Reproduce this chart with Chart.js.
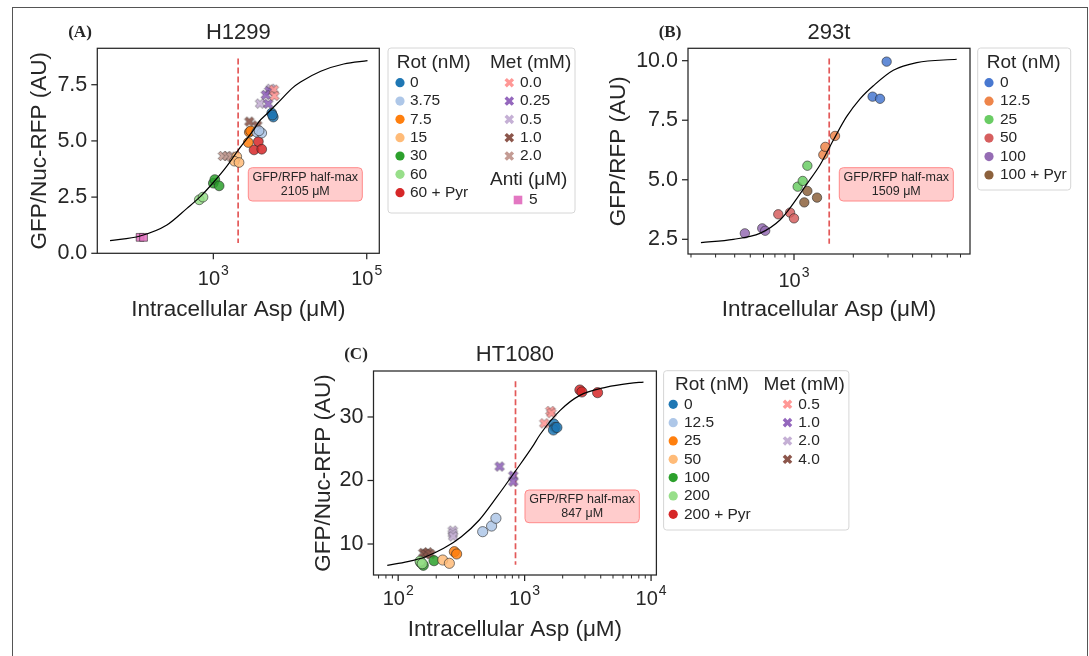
<!DOCTYPE html>
<html>
<head>
<meta charset="utf-8">
<script src="https://cdn.jsdelivr.net/npm/chart.js@4.4.0/dist/chart.umd.min.js"></script>
<style>
    html, body { margin: 0; padding: 0; background: #fff; }
    #wrap { position: relative; width: 1089px; height: 656px; overflow: hidden; }
    #frame { position: absolute; left: 12px; top: 7px; width: 1074px; height: 700px; border: 1px solid #555; }
    canvas { position: absolute; left: 0; top: 0; }
</style>
</head>
<body>
<div id="wrap">
    <div id="frame"></div>
    <canvas id="chartA" width="1089" height="656"></canvas>
    <canvas id="chartB" width="1089" height="656"></canvas>
    <canvas id="chartC" width="1089" height="656"></canvas>
</div>
<script>
// ---- (A) H1299 ----
const aRotLabels = ["0", "3.75", "7.5", "15", "30", "60", "60 + Pyr"];
const aRotAsp = [[5770, 6050, 5900], [3680, 4276, 3950], [2857, 2945, 3060], [2018, 1880, 2163], [1000, 1045, 1190], [656, 733], [3396, 3865, 4276]];
const aRotGfp = [[6.24, 6.06, 6.15], [5.39, 5.35, 5.45], [4.93, 5.39, 5.44], [4.30, 4.10, 4.04], [3.12, 3.28, 3.00], [2.38, 2.50], [4.60, 4.97, 4.63]];
const aMetLabels = ["0.0", "0.25", "0.5", "1.0", "2.0"];
const aMetAsp = [[6150, 6250], [5350, 4830, 5190], [4064, 5600], [2945, 3750], [1330, 1520, 1700]];
const aMetGfp = [[7.28, 7.00], [7.22, 7.05, 6.65], [6.66, 7.32], [5.86, 5.69], [4.33, 4.33, 4.30]];
const aAntiLabels = ["5"];
const aAntiAsp = [[111, 123]];
const aAntiGfp = [[0.71, 0.71]];
const aFitAsp = [45, 111, 248, 453, 676, 1000, 1510, 2123, 3365, 3945, 5012, 7190, 10700, 13710, 25120, 50120, 102300];
const aFitGfp = [0.56, 0.77, 1.26, 2.0, 2.52, 3.15, 3.89, 4.60, 5.5, 5.86, 6.21, 6.75, 7.35, 7.62, 8.1, 8.42, 8.57];
const aHalfMax = 2105;
const aYTicks = [0, 2.5, 5, 7.5];
const aXMajor = [1000, 100000];
const aXMinor = [];

// ---- (B) 293t ----
const bRotLabels = ["0", "12.5", "25", "50", "100", "100 + Pyr"];
const bRotAsp = [[2506, 2733, 2953], [1409, 1442, 1615], [1044, 1107, 1169], [832, 955, 1000], [563, 690, 714], [1128, 1169, 1309]];
const bRotGfp = [[8.49, 8.40, 9.96], [6.05, 6.38, 6.84], [4.71, 4.95, 5.59], [3.55, 3.62, 3.38], [2.75, 2.96, 2.86], [4.05, 4.53, 4.25]];
const bFitAsp = [337, 492, 671, 849, 993, 1159, 1355, 1585, 1849, 2163, 2529, 3192, 4198, 6699];
const bFitGfp = [2.36, 2.50, 2.75, 3.31, 4.01, 4.81, 5.62, 6.67, 7.65, 8.40, 8.95, 9.6, 9.92, 10.06];
const bHalfMax = 1509;
const bYTicks = [2.5, 5, 7.5, 10];
const bXMajor = [1000];
const bXMinor = [300, 400, 500, 600, 700, 800, 900, 2000, 3000, 4000, 5000, 6000, 7000];

// ---- (C) HT1080 ----
const cRotLabels = ["0", "12.5", "25", "50", "100", "200", "200 + Pyr"];
const cRotAsp = [[1700, 1740, 1690, 1800], [466, 548, 593], [278, 290], [225, 254], [149, 155], [151, 158, 192], [2735, 2838, 3776]];
const cRotGfp = [[28.9, 28.35, 27.95, 28.35], [11.94, 12.83, 14.05], [8.79, 8.43], [7.48, 6.96], [7.3, 6.9], [7.06, 6.65, 7.37], [34.25, 33.94, 33.83]];
const cMetLabels = ["0.5", "1.0", "2.0", "4.0"];
const cMetAsp = [[1430, 1600, 1630], [634, 813, 813], [270, 270, 272], [158, 165, 172, 180]];
const cMetGfp = [[29.0, 30.95, 30.6], [22.2, 20.76, 19.82], [12.1, 11.65, 11.2], [8.6, 8.45, 8.7, 8.4]];
const cFitAsp = [82, 119, 165, 229, 316, 438, 605, 839, 1161, 1321, 1901, 2735, 4446, 6790, 8710];
const cFitGfp = [6.64, 7.22, 8.0, 9.32, 11.15, 13.78, 17.45, 21.39, 25.4, 27.2, 31.0, 33.4, 34.7, 35.3, 35.5];
const cHalfMax = 847;
const cYTicks = [10, 20, 30];
const cXMajor = [100, 1000, 10000];
const cXMinor = [70, 80, 90, 200, 300, 400, 500, 600, 700, 800, 900, 2000, 3000, 4000, 5000, 6000, 7000, 8000, 9000];

// colours
const tabRot = ["#1f77b4", "#aec7e8", "#ff7f0e", "#ffbb78", "#2ca02c", "#98df8a", "#d62728"];
const tabMetA = ["#ff9896", "#9467bd", "#c5b0d5", "#8c564b", "#c49c94"];
const tabMetC = ["#ff9896", "#9467bd", "#c5b0d5", "#8c564b"];
const antiColors = ["#e377c2"];
const mutedRot = ["#4878d0", "#ee854a", "#6acc64", "#d65f5f", "#956cb4", "#8c613c"];
// C draws the 200 group under 100, so its colour list follows the array order above
const cRotColors = ["#1f77b4", "#aec7e8", "#ff7f0e", "#ffbb78", "#98df8a", "#2ca02c", "#d62728"];

const SANS = '"Liberation Sans", Arial, Helvetica, sans-serif';
const SERIF = '"Liberation Serif", "Times New Roman", serif';
const INK = "#262626";

function pts(xs, ys) {
    return xs.map((x, i) => ({ x: x, y: ys[i] }));
}

function rgba(hex, a) {
    const n = parseInt(hex.slice(1), 16);
    return `rgba(${n >> 16},${(n >> 8) & 255},${n & 255},${a})`;
}

function xShape(g, cx, cy, color, edge) {
    const r = 5.1, a = 1.7;
    g.save();
    g.translate(cx, cy);
    g.rotate(Math.PI / 4);
    g.beginPath();
    g.moveTo(-a, -r); g.lineTo(a, -r); g.lineTo(a, -a); g.lineTo(r, -a);
    g.lineTo(r, a); g.lineTo(a, a); g.lineTo(a, r); g.lineTo(-a, r);
    g.lineTo(-a, a); g.lineTo(-r, a); g.lineTo(-r, -a); g.lineTo(-a, -a);
    g.closePath();
    g.fillStyle = edge ? rgba(color, 0.9) : color;
    g.fill();
    if (edge) {
        g.strokeStyle = "rgba(40,40,40,0.6)";
        g.lineWidth = 0.7;
        g.stroke();
    }
    g.restore();
}

function xMarker(color) {
    const c = document.createElement("canvas");
    c.width = 14;
    c.height = 14;
    xShape(c.getContext("2d"), 7, 7, color, true);
    return c;
}

function circleSet(xs, ys, color, r) {
    return {
        data: pts(xs, ys), pointStyle: "circle", pointRadius: r,
        backgroundColor: rgba(color, 0.85), borderColor: "rgba(40,40,40,0.75)", borderWidth: 0.8,
        order: 2
    };
}

function crossSet(xs, ys, color) {
    return { data: pts(xs, ys), pointStyle: xMarker(color), pointRadius: 5, order: 2 };
}

function squareSet(xs, ys, color) {
    return {
        data: pts(xs, ys), pointStyle: "rect", pointRadius: 5.5,
        backgroundColor: rgba(color, 0.9), borderColor: "rgba(40,40,40,0.75)", borderWidth: 0.8,
        order: 2
    };
}

function fitSet(xs, ys) {
    return {
        data: pts(xs, ys), showLine: true, borderColor: "#000", borderWidth: 1.2,
        pointRadius: 0, cubicInterpolationMode: "monotone", fill: false, order: 0
    };
}

function text(ctx, s, x, y, size, align, rot, font) {
    ctx.save();
    ctx.font = font || (size + "px " + SANS);
    ctx.fillStyle = INK;
    ctx.textAlign = align || "center";
    ctx.textBaseline = "middle";
    ctx.translate(x, y);
    if (rot) ctx.rotate(rot);
    ctx.fillText(s, 0, 0);
    ctx.restore();
}

function roundBox(ctx, x0, y0, x1, y1, r) {
    ctx.beginPath();
    ctx.moveTo(x0 + r, y0);
    ctx.lineTo(x1 - r, y0); ctx.arcTo(x1, y0, x1, y0 + r, r);
    ctx.lineTo(x1, y1 - r); ctx.arcTo(x1, y1, x1 - r, y1, r);
    ctx.lineTo(x0 + r, y1); ctx.arcTo(x0, y1, x0, y1 - r, r);
    ctx.lineTo(x0, y0 + r); ctx.arcTo(x0, y0, x0 + r, y0, r);
    ctx.closePath();
}

function powLabel(ctx, x, y, exp) {
    ctx.font = "20px " + SANS;
    const w1 = ctx.measureText("10").width;
    ctx.font = "14px " + SANS;
    const w2 = ctx.measureText(exp).width;
    const x0 = x - (w1 + w2 + 1) / 2;
    text(ctx, "10", x0, y, 20, "left");
    text(ctx, exp, x0 + w1 + 1, y - 8, 14, "left");
}

function drawLegend(ctx, L) {
    ctx.save();
    roundBox(ctx, L.box[0], L.box[1], L.box[2], L.box[3], 3);
    ctx.fillStyle = "rgba(255,255,255,0.8)";
    ctx.fill();
    ctx.strokeStyle = "#d6d6d6";
    ctx.lineWidth = 1;
    ctx.stroke();
    L.cols.forEach(col => {
        text(ctx, col.head, col.hx, col.hy, 19, "left");
        col.labels.forEach((lab, i) => {
            const y = col.y0 + i * col.dy;
            if (col.marker === "x") {
                xShape(ctx, col.mx, y, col.colors[i], false);
            } else if (col.marker === "s") {
                ctx.fillStyle = col.colors[i];
                ctx.fillRect(col.mx - 4.3, y - 4.3, 8.6, 8.6);
            } else {
                ctx.fillStyle = col.colors[i];
                ctx.beginPath();
                ctx.arc(col.mx, y, 4.6, 0, Math.PI * 2);
                ctx.fill();
            }
            text(ctx, lab, col.tx, y, 15.5, "left");
        });
    });
    ctx.restore();
}

function decor(P) {
    return {
        id: "decor",
        beforeDatasetsDraw(chart) {
            const ctx = chart.ctx, a = chart.chartArea;
            const px = chart.scales.x.getPixelForValue(P.halfMax);
            const h = a.bottom - a.top;
            ctx.save();
            ctx.strokeStyle = "rgba(222,60,60,0.85)";
            ctx.lineWidth = 1.7;
            ctx.setLineDash([6, 3]);
            ctx.beginPath();
            ctx.moveTo(px, a.top + 0.05 * h);
            ctx.lineTo(px, a.bottom - 0.05 * h);
            ctx.stroke();
            ctx.restore();
        },
        afterDraw(chart) {
            const ctx = chart.ctx, a = chart.chartArea;
            const xs = chart.scales.x, ys = chart.scales.y;
            ctx.save();
            // frame
            ctx.strokeStyle = INK;
            ctx.lineWidth = 1.25;
            ctx.strokeRect(a.left, a.top, a.right - a.left, a.bottom - a.top);
            // y ticks
            P.yTicks.forEach(v => {
                const py = ys.getPixelForValue(v);
                ctx.beginPath();
                ctx.moveTo(a.left - 6, py);
                ctx.lineTo(a.left, py);
                ctx.stroke();
                text(ctx, P.yFmt(v), a.left - 10, py, 21.5, "right");
            });
            // x ticks
            P.xMajor.forEach(v => {
                const px = xs.getPixelForValue(v);
                ctx.lineWidth = 1.25;
                ctx.beginPath();
                ctx.moveTo(px, a.bottom);
                ctx.lineTo(px, a.bottom + 6);
                ctx.stroke();
                powLabel(ctx, px, a.bottom + P.xLabDy, String(Math.round(Math.log10(v))));
            });
            ctx.lineWidth = 1;
            P.xMinor.forEach(v => {
                const px = xs.getPixelForValue(v);
                ctx.beginPath();
                ctx.moveTo(px, a.bottom);
                ctx.lineTo(px, a.bottom + 3.5);
                ctx.stroke();
            });
            // titles
            const cx = (a.left + a.right) / 2, cy = (a.top + a.bottom) / 2;
            text(ctx, P.title, cx, P.titleY, 22);
            text(ctx, P.letter, P.letterX, P.titleY, 0, "center", 0, "bold 17px " + SERIF);
            text(ctx, P.yTitle, P.yTitleX, cy, 22.5, "center", -Math.PI / 2);
            text(ctx, "Intracellular Asp (μM)", cx, P.xTitleY, 22.5);
            // half-max box
            const b = P.box;
            roundBox(ctx, b[0], b[1], b[2], b[3], 4);
            ctx.fillStyle = "#ffcccc";
            ctx.fill();
            ctx.strokeStyle = "#ff8a8a";
            ctx.lineWidth = 1;
            ctx.stroke();
            const bx = (b[0] + b[2]) / 2;
            text(ctx, "GFP/RFP half-max", bx, b[1] + 9.5, 12.5);
            text(ctx, P.halfMax + " μM", bx, b[1] + 23.5, 12.5);
            drawLegend(ctx, P.legend);
            ctx.restore();
        }
    };
}

function makeChart(id, P, datasets) {
    const a = P.area;
    return new Chart(document.getElementById(id), {
        type: "scatter",
        data: { datasets: datasets },
        options: {
            responsive: false,
            animation: false,
            events: [],
            layout: { padding: { left: a.l, top: a.t, right: 1089 - a.r, bottom: 656 - a.b } },
            scales: {
                x: { type: "logarithmic", min: P.xMin, max: P.xMax, display: false },
                y: { type: "linear", min: P.yMin, max: P.yMax, display: false }
            },
            plugins: { legend: { display: false }, tooltip: { enabled: false } }
        },
        plugins: [decor(P)]
    });
}

// ---- panel A ----
const dataA = [fitSet(aFitAsp, aFitGfp)];
aRotAsp.forEach((xs, i) => dataA.push(circleSet(xs, aRotGfp[i], tabRot[i], 4.9)));
aMetAsp.forEach((xs, i) => dataA.push(crossSet(xs, aMetGfp[i], tabMetA[i])));
aAntiAsp.forEach((xs, i) => dataA.push(squareSet(xs, aAntiGfp[i], antiColors[i])));

makeChart("chartA", {
    area: { l: 97.3, t: 48.3, r: 379.3, b: 253.3 },
    xMin: 30.7, xMax: 145800, yMin: 0, yMax: 9.12,
    yTicks: aYTicks, yFmt: v => v.toFixed(1), xMajor: aXMajor, xMinor: aXMinor, xLabDy: 26,
    halfMax: aHalfMax,
    title: "H1299", titleY: 33, letter: "(A)", letterX: 80,
    yTitle: "GFP/Nuc-RFP (AU)", yTitleX: 40, xTitleY: 310,
    box: [248.3, 167.7, 362.3, 201],
    legend: {
        box: [388, 48, 575, 213],
        cols: [
            { head: "Rot (nM)", hx: 396.7, hy: 62.3, mx: 400, tx: 410, y0: 82.7, dy: 18.33, labels: aRotLabels, colors: tabRot, marker: "o" },
            { head: "Met (mM)", hx: 490, hy: 62.3, mx: 509.3, tx: 520, y0: 82.7, dy: 18.33, labels: aMetLabels, colors: tabMetA, marker: "x" },
            { head: "Anti (μM)", hx: 490, hy: 180, mx: 518, tx: 529, y0: 200, dy: 18.33, labels: aAntiLabels, colors: antiColors, marker: "s" }
        ]
    }
}, dataA);

// ---- panel B ----
const dataB = [fitSet(bFitAsp, bFitGfp)];
bRotAsp.forEach((xs, i) => dataB.push(circleSet(xs, bRotGfp[i], mutedRot[i], 4.7)));

makeChart("chartB", {
    area: { l: 688, t: 48.3, r: 970, b: 254 },
    xMin: 289.7, xMax: 7823, yMin: 1.883, yMax: 10.52,
    yTicks: bYTicks, yFmt: v => v.toFixed(1), xMajor: bXMajor, xMinor: bXMinor, xLabDy: 27,
    halfMax: bHalfMax,
    title: "293t", titleY: 33, letter: "(B)", letterX: 670,
    yTitle: "GFP/RFP (AU)", yTitleX: 618.3, xTitleY: 310,
    box: [839.3, 167.7, 953.3, 201],
    legend: {
        box: [977.7, 48, 1070.7, 190],
        cols: [
            { head: "Rot (nM)", hx: 986.7, hy: 62.3, mx: 989, tx: 1000, y0: 82.7, dy: 18.46, labels: bRotLabels, colors: mutedRot, marker: "o" }
        ]
    }
}, dataB);

// ---- panel C ----
const dataC = [fitSet(cFitAsp, cFitGfp)];
cRotAsp.forEach((xs, i) => dataC.push(circleSet(xs, cRotGfp[i], cRotColors[i], 5.1)));
cMetAsp.forEach((xs, i) => dataC.push(crossSet(xs, cMetGfp[i], tabMetC[i])));

makeChart("chartC", {
    area: { l: 373.5, t: 371, r: 656.4, b: 575 },
    xMin: 63.8, xMax: 11020, yMin: 5.12, yMax: 37.24,
    yTicks: cYTicks, yFmt: v => String(v), xMajor: cXMajor, xMinor: cXMinor, xLabDy: 24,
    halfMax: cHalfMax,
    title: "HT1080", titleY: 355, letter: "(C)", letterX: 356,
    yTitle: "GFP/Nuc-RFP (AU)", yTitleX: 324, xTitleY: 630,
    box: [525, 490, 639.3, 522.7],
    legend: {
        box: [663.6, 370.7, 848.9, 530],
        cols: [
            { head: "Rot (nM)", hx: 675, hy: 385, mx: 673.2, tx: 684, y0: 404.3, dy: 18.33, labels: cRotLabels, colors: tabRot, marker: "o" },
            { head: "Met (mM)", hx: 763.6, hy: 385, mx: 787.5, tx: 798.2, y0: 404.3, dy: 18.33, labels: cMetLabels, colors: tabMetC, marker: "x" }
        ]
    }
}, dataC);
</script>
</body>
</html>
